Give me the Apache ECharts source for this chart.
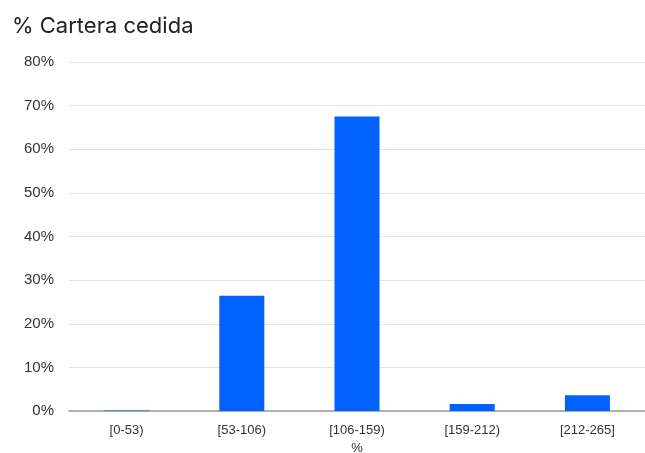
<!DOCTYPE html>
<html>
<head>
<meta charset="utf-8">
<script src="https://cdn.jsdelivr.net/npm/echarts@6/dist/echarts.min.js"></script>
<style>
  html, body { margin: 0; padding: 0; background: #fff; }
  #chart { width: 645px; height: 453px; }
</style>
</head>
<body>
<div id="chart"></div>
<script>
const categories = ['[0-53)', '[53-106)', '[106-159)', '[159-212)', '[212-265]']
const values = [0.1, 26.4, 67.5, 1.6, 3.6]
const yTicks = [0, 10, 20, 30, 40, 50, 60, 70, 80]

const chart = echarts.init(document.getElementById('chart'))
const option = {
  animation: false,
  title: {
    text: '% Cartera cedida',
    left: 7,
    top: 10,
    textStyle: {
      fontFamily: 'Inter',
      fontSize: 22,
      fontWeight: 'normal',
      color: '#222'
    }
  },
  grid: {
    left: 69,
    right: 0,
    top: 62,
    bottom: 42,
    outerBoundsMode: 'none'
  },
  xAxis: {
    type: 'category',
    data: categories,
    name: '%',
    nameLocation: 'middle',
    nameGap: 31,
    nameTextStyle: {
      fontFamily: 'Liberation Sans',
      fontSize: 13,
      color: '#333'
    },
    axisTick: { show: false },
    axisLine: { lineStyle: { color: '#999', width: 1.5 } },
    axisLabel: {
      fontFamily: 'Liberation Sans',
      fontSize: 13,
      color: '#333',
      margin: 13
    }
  },
  yAxis: {
    type: 'value',
    min: yTicks[0],
    max: yTicks[yTicks.length - 1],
    interval: 10,
    axisLabel: {
      formatter: '{value}%',
      fontFamily: 'Liberation Sans',
      fontSize: 15,
      color: '#333',
      margin: 15
    },
    splitLine: { lineStyle: { color: '#e3e3e3' } }
  },
  series: [{
    type: 'bar',
    data: values,
    barWidth: 45,
    itemStyle: { color: '#0062ff' }
  }]
}
chart.setOption(option)
</script>
</body>
</html>
